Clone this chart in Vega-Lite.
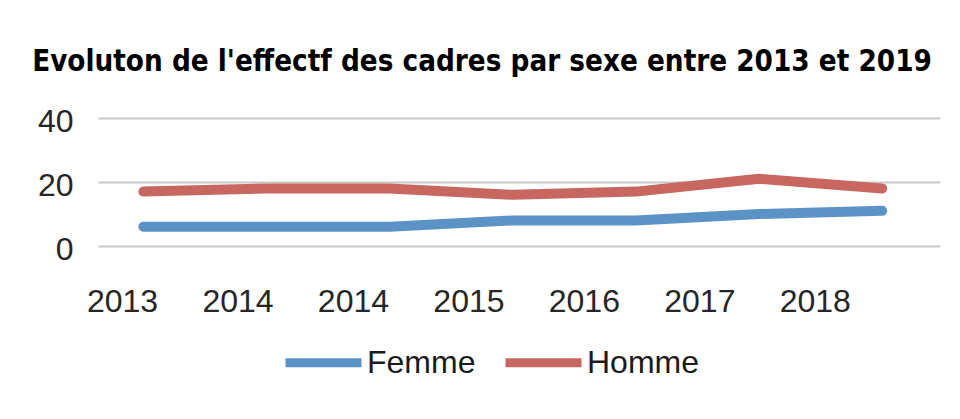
{
  "$schema": "https://vega.github.io/schema/vega-lite/v6.json",
  "autosize": "none",
  "width": 842,
  "height": 128,
  "padding": {"left": 98, "top": 118, "right": 20, "bottom": 173},
  "background": "white",
  "title": {
    "text": "Evoluton de l'effectf des cadres par sexe entre 2013 et 2019",
    "font": "DejaVu Sans Condensed",
    "fontSize": 29.3,
    "fontWeight": "bold",
    "color": "#000000",
    "anchor": "middle",
    "frame": "group",
    "dx": -37,
    "baseline": "alphabetic",
    "offset": 5
  },
  "data": {
    "values": [
      {"t": 0, "sexe": "Femme", "effectif": 6},
      {"t": 1, "sexe": "Femme", "effectif": 6},
      {"t": 2, "sexe": "Femme", "effectif": 6},
      {"t": 3, "sexe": "Femme", "effectif": 8},
      {"t": 4, "sexe": "Femme", "effectif": 8},
      {"t": 5, "sexe": "Femme", "effectif": 10},
      {"t": 6, "sexe": "Femme", "effectif": 11},
      {"t": 0, "sexe": "Homme", "effectif": 17},
      {"t": 1, "sexe": "Homme", "effectif": 18},
      {"t": 2, "sexe": "Homme", "effectif": 18},
      {"t": 3, "sexe": "Homme", "effectif": 16},
      {"t": 4, "sexe": "Homme", "effectif": 17},
      {"t": 5, "sexe": "Homme", "effectif": 21},
      {"t": 6, "sexe": "Homme", "effectif": 18}
    ]
  },
  "mark": {"type": "line", "strokeWidth": 10, "strokeCap": "round", "strokeJoin": "round"},
  "encoding": {
    "x": {
      "field": "t",
      "type": "quantitative",
      "scale": {"domain": [-0.368, 6.469], "nice": false, "zero": false},
      "axis": {
        "title": null,
        "values": [-0.173, 0.765, 1.702, 2.64, 3.577, 4.515, 5.452],
        "labelExpr": "datum.value < 0 ? '2013' : datum.value < 1 ? '2014' : datum.value < 2 ? '2014' : datum.value < 3 ? '2015' : datum.value < 4 ? '2016' : datum.value < 5 ? '2017' : '2018'",
        "grid": false,
        "domain": false,
        "ticks": false,
        "labelFont": "Liberation Sans",
        "labelFontSize": 32,
        "labelColor": "#262626",
        "labelPadding": 40,
        "labelFlush": false,
        "labelOverlap": false
      }
    },
    "y": {
      "field": "effectif",
      "type": "quantitative",
      "scale": {"domain": [0, 40], "nice": false},
      "axis": {
        "title": null,
        "values": [0, 20, 40],
        "grid": true,
        "gridColor": "#c8c8c8",
        "gridWidth": 2,
        "domain": false,
        "ticks": false,
        "labelFont": "Liberation Sans",
        "labelFontSize": 32,
        "labelColor": "#262626",
        "labelPadding": 25,
        "labelOffset": 3,
        "labelFlush": false
      }
    },
    "color": {
      "field": "sexe",
      "type": "nominal",
      "scale": {"domain": ["Femme", "Homme"], "range": ["#5B93C7", "#C8675F"]},
      "legend": {
        "title": null,
        "orient": "none",
        "direction": "horizontal",
        "legendX": 183,
        "legendY": 202,
        "symbolType": "stroke",
        "symbolSize": 5776,
        "symbolStrokeWidth": 9,
        "labelFont": "Liberation Sans",
        "labelFontSize": 32,
        "labelColor": "#1a1a1a",
        "labelOffset": 1,
        "columnPadding": 11
      }
    }
  },
  "config": {"view": {"stroke": null}}
}
